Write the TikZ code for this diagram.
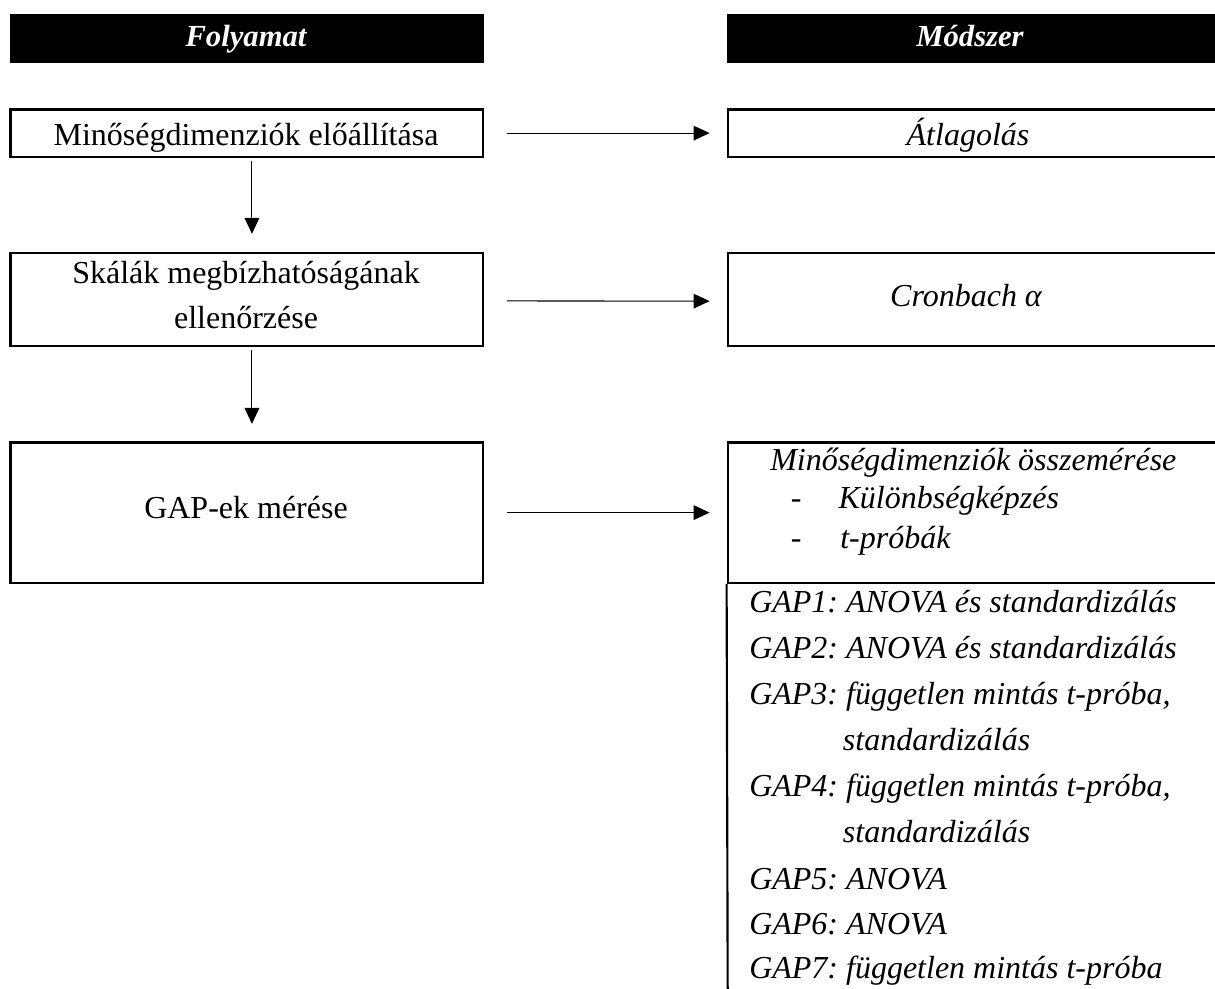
\documentclass[tikz,border=0pt]{standalone}
\usepackage{fontspec}
\setmainfont{Liberation Serif}
\usetikzlibrary{arrows.meta}
\frenchspacing
\begin{document}
\begin{tikzpicture}[x=0.75pt,y=-0.75pt,
  hdr/.style={fill=black, draw=black, minimum height=36.5pt, inner sep=0pt},
  hdrtxt/.style={anchor=base, text=white, inner sep=0pt, font=\fontsize{23}{27}\selectfont\bfseries\itshape},
  lbox/.style={draw=black, line width=1.6pt, minimum width=354.4pt, inner sep=0pt},
  ltxt/.style={anchor=base, inner sep=0pt, font=\fontsize{24}{30}\selectfont},
  rbox/.style={draw=black, line width=1.6pt, minimum width=373pt, inner sep=0pt},
  rlbl/.style={anchor=base, inner sep=0pt, font=\fontsize{24}{30}\selectfont\itshape},
  flow/.style={line width=0.8pt, -{Triangle[length=12pt,width=11pt]}},
  rtxt/.style={anchor=base west, inner sep=0pt, font=\fontsize{24}{30}\selectfont\itshape}
]
\useasboundingbox (0,0) rectangle (1215,989);
% headers
\node[hdr, minimum width=354.4pt] (h1) at (246.75,38.35) {};
\node[hdr, minimum width=373pt] (h2) at (976.35,38.35) {};
\node[hdrtxt] (h1t) at (246,46) {Folyamat};
\node[hdrtxt] (h2t) at (970,46) {Módszer};
% process boxes
\node[lbox, minimum height=35.4pt] (b1) at (246.75,133.1) {};
\node[lbox, minimum height=69.75pt] (b2) at (246.75,299.2) {};
\node[lbox, minimum height=105.2pt] (b3) at (246.75,512.6) {};
\node[ltxt] (b1t) at (246,145) {Minőségdimenziók előállítása};
\node[ltxt] (b2t) at (246,283.3) {Skálák megbízhatóságának};
\node[ltxt] (b2u) at (246,328.3) {ellenőrzése};
\node[ltxt] (b3t) at (246,518.3) {GAP-ek mérése};
% method boxes
\node[rbox, minimum height=35.4pt] (r1) at (976.35,133.1) {};
\node[rbox, minimum height=69.75pt] (r2) at (976.35,299.4) {};
\node[rbox, minimum height=105.2pt] (r3) at (976.35,512.6) {};
\node[rlbl] (r1t) at (968,145) {Átlagolás};
\node[rlbl] (r2t) at (966,306.5) {Cronbach α};
\coordinate (r3end) at (727.7,995);
\draw[line width=1.6pt] (r3.south west) -- (r3end);
% connectors
\draw[flow] ([xshift=17.25pt]b1.east) -- ([xshift=-12.75pt]r1.west);
\draw[flow] ([xshift=17.25pt,yshift=-1.3pt]b2.east) -- ([xshift=-12.75pt,yshift=-1.3pt]r2.west);
\draw[flow] ([xshift=17.25pt]b3.east) -- ([xshift=-12.75pt]r3.west);
\draw[flow] ([xshift=3.9pt,yshift=-2.5pt]b1.south) -- ([xshift=3.9pt,yshift=13.3pt]b2.north);
\draw[flow] ([xshift=3.9pt,yshift=-2.5pt]b2.south) -- ([xshift=3.9pt,yshift=13.1pt]b3.north);
% method texts
\node[rtxt] (m0) at (770,470.7) {Minőségdimenziók összemérése};
\node[rtxt] (d1) at (790.7,508.3) {-};
\node[rtxt] (m1) at (838.3,508.3) {Különbségképzés};
\node[rtxt] (d2) at (790.7,548.3) {-};
\node[rtxt] (m2) at (840,548.3) {t-próbák};
\node[rtxt] (g1) at (749,612) {GAP1: ANOVA és standardizálás};
\node[rtxt] (g2) at (749,658) {GAP2: ANOVA és standardizálás};
\node[rtxt] (g3) at (749,704) {GAP3: független mintás t-próba,};
\node[rtxt] (g3b) at (842.7,750) {standardizálás};
\node[rtxt] (g4) at (749,796) {GAP4: független mintás t-próba,};
\node[rtxt] (g4b) at (842.7,842) {standardizálás};
\node[rtxt] (g5) at (749,889) {GAP5: ANOVA};
\node[rtxt] (g6) at (749,934) {GAP6: ANOVA};
\node[rtxt] (g7) at (749,978) {GAP7: független mintás t-próba};
\end{tikzpicture}
\end{document}
